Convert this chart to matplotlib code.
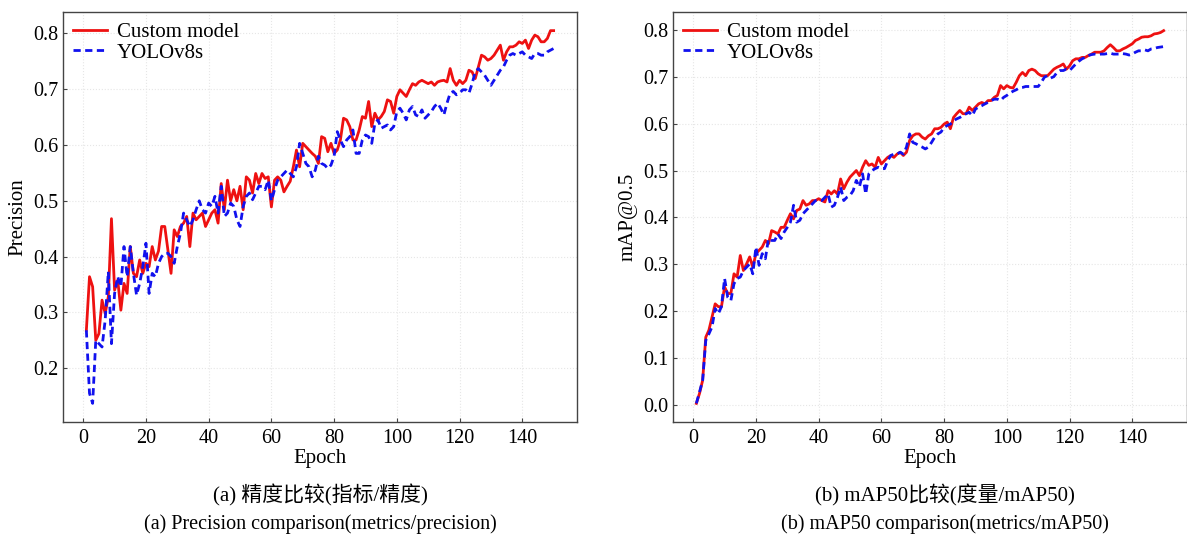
import matplotlib
matplotlib.use("Agg")
import matplotlib.pyplot as plt

plt.rcParams["font.family"] = ["Liberation Serif", "Noto Sans CJK SC", "DejaVu Sans"]

epochs = list(range(1, 151))

# (a) precision
prec_custom = [
    0.268, 0.364, 0.346, 0.250, 0.262, 0.322, 0.298, 0.328, 0.468, 0.340,
    0.358, 0.304, 0.352, 0.334, 0.418, 0.370, 0.364, 0.394, 0.370, 0.388,
    0.382, 0.418, 0.394, 0.410, 0.454, 0.454, 0.412, 0.370, 0.448, 0.436,
    0.454, 0.460, 0.472, 0.418, 0.478, 0.466, 0.472, 0.478, 0.454, 0.466,
    0.478, 0.484, 0.460, 0.531, 0.484, 0.537, 0.500, 0.520, 0.500, 0.526,
    0.484, 0.543, 0.537, 0.514, 0.549, 0.531, 0.549, 0.540, 0.543, 0.489,
    0.537, 0.543, 0.537, 0.516, 0.526, 0.535, 0.561, 0.591, 0.561, 0.603,
    0.597, 0.591, 0.585, 0.580, 0.567, 0.615, 0.612, 0.588, 0.603, 0.585,
    0.591, 0.609, 0.648, 0.645, 0.633, 0.609, 0.609, 0.627, 0.651, 0.648,
    0.678, 0.633, 0.657, 0.645, 0.651, 0.660, 0.681, 0.678, 0.657, 0.687,
    0.699, 0.693, 0.687, 0.699, 0.710, 0.707, 0.713, 0.716, 0.713, 0.710,
    0.713, 0.707, 0.713, 0.715, 0.716, 0.713, 0.737, 0.716, 0.707, 0.716,
    0.710, 0.716, 0.734, 0.731, 0.719, 0.740, 0.761, 0.758, 0.752, 0.755,
    0.761, 0.770, 0.779, 0.752, 0.767, 0.776, 0.776, 0.779, 0.785, 0.782,
    0.788, 0.773, 0.788, 0.797, 0.794, 0.785, 0.785, 0.791, 0.805, 0.805,
]
prec_yolo = [
    0.268, 0.155, 0.137, 0.250, 0.244, 0.238, 0.286, 0.373, 0.244, 0.334,
    0.364, 0.346, 0.418, 0.364, 0.418, 0.370, 0.331, 0.352, 0.382, 0.424,
    0.334, 0.370, 0.364, 0.388, 0.400, 0.406, 0.406, 0.400, 0.388, 0.418,
    0.442, 0.478, 0.466, 0.454, 0.466, 0.484, 0.500, 0.484, 0.478, 0.496,
    0.490, 0.508, 0.478, 0.526, 0.472, 0.478, 0.496, 0.490, 0.466, 0.454,
    0.490, 0.508, 0.514, 0.502, 0.514, 0.526, 0.526, 0.520, 0.537, 0.500,
    0.520, 0.537, 0.543, 0.549, 0.555, 0.549, 0.543, 0.561, 0.603, 0.585,
    0.567, 0.561, 0.543, 0.555, 0.580, 0.567, 0.564, 0.558, 0.564, 0.580,
    0.624, 0.609, 0.597, 0.609, 0.615, 0.627, 0.585, 0.585, 0.609, 0.618,
    0.615, 0.603, 0.639, 0.645, 0.630, 0.633, 0.636, 0.627, 0.633, 0.660,
    0.666, 0.657, 0.645, 0.663, 0.669, 0.654, 0.651, 0.663, 0.648, 0.654,
    0.660, 0.669, 0.675, 0.666, 0.654, 0.675, 0.693, 0.696, 0.690, 0.693,
    0.699, 0.699, 0.693, 0.710, 0.731, 0.737, 0.731, 0.725, 0.716, 0.707,
    0.716, 0.725, 0.734, 0.740, 0.752, 0.761, 0.764, 0.761, 0.764, 0.767,
    0.761, 0.758, 0.755, 0.764, 0.764, 0.761, 0.761, 0.767, 0.770, 0.773,
]

# (b) mAP@0.5
map_custom = [
    0.004, 0.025, 0.053, 0.145, 0.160, 0.188, 0.216, 0.210, 0.210, 0.252,
    0.238, 0.238, 0.280, 0.273, 0.319, 0.287, 0.301, 0.316, 0.294, 0.323,
    0.330, 0.337, 0.351, 0.344, 0.372, 0.369, 0.365, 0.379, 0.379, 0.394,
    0.408, 0.397, 0.415, 0.418, 0.436, 0.426, 0.429, 0.436, 0.436, 0.440,
    0.436, 0.433, 0.457, 0.450, 0.457, 0.450, 0.482, 0.461, 0.475, 0.486,
    0.493, 0.500, 0.489, 0.507, 0.521, 0.511, 0.514, 0.507, 0.528, 0.514,
    0.521, 0.528, 0.532, 0.528, 0.535, 0.539, 0.532, 0.539, 0.564, 0.574,
    0.578, 0.578, 0.571, 0.567, 0.574, 0.578, 0.589, 0.589, 0.592, 0.599,
    0.603, 0.589, 0.613, 0.621, 0.628, 0.621, 0.621, 0.635, 0.628, 0.635,
    0.642, 0.645, 0.642, 0.649, 0.649, 0.656, 0.660, 0.681, 0.674, 0.681,
    0.677, 0.676, 0.688, 0.702, 0.709, 0.702, 0.713, 0.716, 0.713, 0.706,
    0.702, 0.702, 0.702, 0.709, 0.716, 0.720, 0.723, 0.727, 0.716, 0.723,
    0.734, 0.738, 0.738, 0.741, 0.741, 0.745, 0.748, 0.752, 0.752, 0.752,
    0.755, 0.762, 0.768, 0.762, 0.755, 0.755, 0.759, 0.762, 0.766, 0.770,
    0.777, 0.780, 0.784, 0.785, 0.785, 0.787, 0.791, 0.792, 0.794, 0.798,
]
map_yolo = [
    0.004, 0.028, 0.053, 0.138, 0.152, 0.167, 0.206, 0.195, 0.210, 0.270,
    0.230, 0.223, 0.259, 0.270, 0.273, 0.287, 0.294, 0.301, 0.280, 0.337,
    0.298, 0.323, 0.312, 0.355, 0.351, 0.351, 0.365, 0.355, 0.369, 0.379,
    0.390, 0.426, 0.390, 0.394, 0.408, 0.415, 0.422, 0.429, 0.436, 0.436,
    0.436, 0.443, 0.450, 0.422, 0.426, 0.443, 0.465, 0.436, 0.443, 0.447,
    0.457, 0.479, 0.465, 0.493, 0.450, 0.493, 0.500, 0.504, 0.507, 0.504,
    0.504, 0.521, 0.532, 0.535, 0.535, 0.539, 0.535, 0.550, 0.578, 0.560,
    0.557, 0.553, 0.550, 0.546, 0.550, 0.560, 0.571, 0.578, 0.582, 0.592,
    0.596, 0.599, 0.606, 0.610, 0.613, 0.617, 0.621, 0.624, 0.617, 0.631,
    0.635, 0.638, 0.642, 0.645, 0.649, 0.652, 0.652, 0.649, 0.656, 0.660,
    0.665, 0.669, 0.672, 0.676, 0.677, 0.679, 0.679, 0.679, 0.679, 0.679,
    0.688, 0.699, 0.702, 0.697, 0.700, 0.709, 0.713, 0.713, 0.716, 0.713,
    0.720, 0.727, 0.733, 0.738, 0.741, 0.745, 0.747, 0.748, 0.747, 0.748,
    0.748, 0.749, 0.750, 0.748, 0.748, 0.748, 0.749, 0.748, 0.746, 0.748,
    0.752, 0.755, 0.755, 0.757, 0.755, 0.759, 0.760, 0.762, 0.763, 0.764,
]

labels = ["Custom model", "YOLOv8s"]
ylabels = ["Precision", "mAP@0.5"]
captions = [
    ("(a) 精度比较(指标/精度)", "(a) Precision comparison(metrics/precision)"),
    ("(b) mAP50比较(度量/mAP50)", "(b) mAP50 comparison(metrics/mAP50)"),
]

fig = plt.figure(figsize=(11.87, 5.4), dpi=100)
ax1 = fig.add_axes([63 / 1187, 118 / 540, 514 / 1187, 410 / 540])
ax2 = fig.add_axes([673 / 1187, 118 / 540, 514 / 1187, 410 / 540])

for ax, red, blue, ylab in [(ax1, prec_custom, prec_yolo, ylabels[0]),
                            (ax2, map_custom, map_yolo, ylabels[1])]:
    ax.plot(epochs, red, color="#ee1111", lw=2.0, label=labels[0])
    ax.plot(epochs, blue, color="#1111ee", lw=2.0, ls=(0, (2.6, 1.6)), label=labels[1])
    ax.set_xticks([0, 20, 40, 60, 80, 100, 120, 140])
    ax.grid(True, color="#e6e6e6", ls=":", lw=0.8)
    ax.tick_params(direction="in", length=3, labelsize=14.5, color="#444444")
    ax.tick_params(axis="x", pad=5)
    for s in ax.spines.values():
        s.set_color("#444444")
        s.set_linewidth(1.0)
    ax.set_xlabel("Epoch", fontsize=15, labelpad=1)
    ax.set_ylabel(ylab, fontsize=15, labelpad=4)
    ax.legend(loc="upper left", frameon=False, fontsize=15, handlelength=1.6,
              handletextpad=0.5, labelspacing=0.05, borderaxespad=0.2,
              borderpad=0.3)

ax2.set_yticks([0.0, 0.1, 0.2, 0.3, 0.4, 0.5, 0.6, 0.7, 0.8])

for xc, (zh, en) in zip([320 / 1187, 945 / 1187], captions):
    fig.text(xc, 1 - 495 / 540, zh, ha="center", va="center", fontsize=15)
    fig.text(xc, 1 - 524 / 540, en, ha="center", va="center", fontsize=14.5)

fig.savefig("out.png", dpi=100)
